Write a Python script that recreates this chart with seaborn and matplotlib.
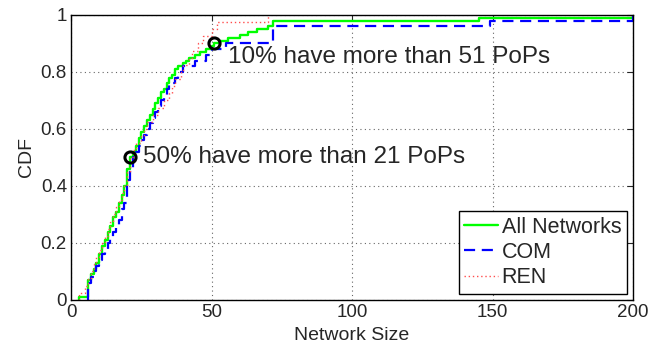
import matplotlib
matplotlib.use("Agg")
import matplotlib.pyplot as plt
import seaborn as sns
import pandas as pd
import numpy as np

# Network sizes (PoPs)
all_sizes = [3, 6, 6, 6, 6, 6, 6, 7, 7, 8,
             8, 9, 9, 10, 10, 10, 11, 11, 11, 12,
             12, 13, 13, 13, 14, 14, 15, 15, 15, 16,
             16, 17, 17, 17, 18, 18, 18, 19, 19, 19,
             20, 20, 20, 20, 20, 20, 21, 21, 21, 21,
             22, 22, 23, 23, 24, 24, 24, 25, 25, 26,
             26, 27, 27, 28, 28, 29, 29, 30, 30, 31,
             31, 32, 32, 33, 34, 34, 35, 35, 36, 37,
             37, 38, 40, 41, 42, 44, 46, 48, 50, 51,
             53, 56, 60, 63, 66, 70, 72, 72, 145, 200]
com_sizes = [6, 6, 6, 7, 8, 9, 10, 11, 12, 13,
             14, 15, 16, 17, 18, 18, 19, 20, 20, 20,
             20, 21, 21, 22, 22, 23, 24, 25, 26, 27,
             28, 29, 30, 31, 32, 33, 34, 35, 37, 38,
             40, 44, 48, 50, 55, 72, 72, 72, 149, 200]
ren_sizes = [3, 5, 6, 7, 8, 9, 10, 11, 12, 13,
             14, 15, 16, 17, 18, 19, 20, 20, 21, 21,
             22, 23, 25, 26, 27, 29, 31, 33, 35, 36,
             37, 39, 40, 42, 43, 45, 47, 50, 52, 70]

series_names = ["All Networks", "COM", "REN"]
annot_x = [21, 51]
annot_y = [0.5, 0.9]
annot_text = ["50% have more than 21 PoPs", "10% have more than 51 PoPs"]
x_ticks = [0, 50, 100, 150, 200]
y_ticks = [0, 0.2, 0.4, 0.6, 0.8, 1]
y_ticklabels = ["0", "0.2", "0.4", "0.6", "0.8", "1"]

df = pd.concat([
    pd.DataFrame({"size": all_sizes, "group": series_names[0]}),
    pd.DataFrame({"size": com_sizes, "group": series_names[1]}),
    pd.DataFrame({"size": ren_sizes, "group": series_names[2]}),
])

sns.set_style("white")
plt.rcParams["font.family"] = ["Liberation Sans", "DejaVu Sans"]

fig = plt.figure(figsize=(6.52, 3.48), dpi=100)
ax = fig.add_axes([0.109, 0.138, 0.862, 0.819])

styles = {
    "All Networks": dict(color=(0, 1, 0), linestyle="-", linewidth=1.7),
    "COM": dict(color=(0, 0, 1), linestyle=(0, (5, 3)), linewidth=1.6),
    "REN": dict(color=(1, 0.3, 0.3), linestyle=(0, (1, 2)), linewidth=1.0),
}
for name in series_names:
    sns.ecdfplot(data=df[df["group"] == name], x="size", ax=ax,
                 label=name, **styles[name])

ax.plot(annot_x, annot_y, linestyle="none", marker="o", markersize=8,
        markerfacecolor="none", markeredgecolor="black", markeredgewidth=2.2,
        zorder=5)
ax.text(annot_x[0] + 4.5, annot_y[0], annot_text[0], fontsize=17.5,
        va="center", ha="left")
ax.text(annot_x[1] + 5, annot_y[1] - 0.048, annot_text[1], fontsize=17.5,
        va="center", ha="left")

ax.set_xlim(0, 200)
ax.set_ylim(0, 1)
ax.set_xticks(x_ticks)
ax.set_yticks(y_ticks)
ax.set_yticklabels(y_ticklabels)
ax.set_xlabel("Network Size", fontsize=14, labelpad=4)
ax.set_ylabel("CDF", fontsize=14, labelpad=4)
ax.tick_params(direction="in", length=4, labelsize=13.5, top=True, right=True,
               width=0.8, pad=3)
ax.grid(True, linestyle=(0, (1, 3)), color="#666666", linewidth=0.8)
for s in ax.spines.values():
    s.set_visible(True)
    s.set_color("black")
    s.set_linewidth(1.0)

leg = ax.legend(loc="lower right", fontsize=15.5, frameon=True, fancybox=False,
                edgecolor="black", framealpha=1, borderpad=0.25,
                handlelength=1.6, handletextpad=0.15, labelspacing=0.2,
                borderaxespad=0.3)
leg.get_frame().set_linewidth(1.0)

fig.savefig("out.png", dpi=100)
